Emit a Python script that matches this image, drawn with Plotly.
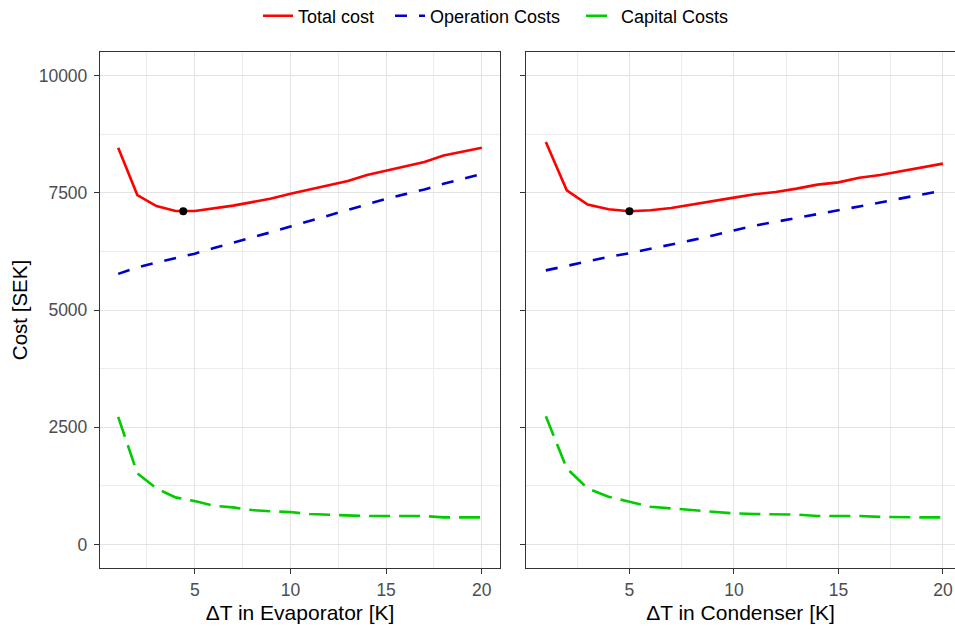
import plotly.graph_objects as go

dT = list(range(1, 21))

evap_total = [8460, 7450, 7215, 7110, 7110, 7160, 7225, 7300, 7375, 7480,
              7570, 7660, 7750, 7880, 7975, 8060, 8155, 8295, 8380, 8460]
evap_oper = [5770, 5910, 6010, 6110, 6200, 6320, 6430, 6550, 6660, 6780,
             6900, 7020, 7130, 7250, 7370, 7470, 7570, 7690, 7800, 7900]
evap_cap = [2722, 1517, 1197, 1005, 926, 827, 792, 735, 707, 692,
            650, 635, 628, 607, 607, 607, 607, 579, 579, 579]
evap_opt = (4.4, 7105)

cond_total = [8580, 7551, 7246, 7146, 7104, 7125, 7174, 7253, 7323, 7395,
              7466, 7515, 7587, 7672, 7721, 7821, 7877, 7962, 8034, 8120]
cond_oper = [5845, 5940, 6040, 6130, 6210, 6300, 6390, 6490, 6590, 6700,
             6800, 6880, 6960, 7040, 7120, 7200, 7290, 7380, 7460, 7545]
cond_cap = [2737, 1623, 1197, 1018, 912, 805, 771, 735, 692, 664,
            650, 650, 640, 607, 607, 607, 590, 579, 579, 579]
cond_opt = (5, 7104)

series_names = ["Total cost", "Operation Costs", "Capital Costs"]
colors = ["#ff0000", "#0000cc", "#00cc00"]
dashes = ["solid", "12px,12px", "21px,9px"]
legend_ids = ["legend", "legend2", "legend3"]
legend_text_x = [300, 432, 623]   # left edge of legend text (px)

FONT = "Arial, Liberation Sans, sans-serif"
fig = go.Figure()

panels = [("x", "y", evap_total, evap_oper, evap_cap, evap_opt),
          ("x2", "y2", cond_total, cond_oper, cond_cap, cond_opt)]
for i, (xa, ya, tot, op, cap, opt) in enumerate(panels):
    for name, vals, col, dsh, lg in zip(series_names, [tot, op, cap], colors, dashes, legend_ids):
        fig.add_trace(go.Scatter(
            x=dT, y=vals, mode="lines", name=name,
            line=dict(color=col, width=2.6, dash=dsh),
            xaxis=xa, yaxis=ya, showlegend=(i == 0), legend=lg))
    fig.add_trace(go.Scatter(
        x=[opt[0]], y=[opt[1]], mode="markers",
        marker=dict(color="black", size=8), xaxis=xa, yaxis=ya,
        showlegend=False))

L, R, T, B = 98, 0, 52, 62
W, H = 955, 630
pw = W - L - R
ph = H - T - B

def dom(a, b):
    return [(a - L) / pw, (b - L) / pw]

grid_major = "#e3e3e3"
grid_minor = "#ececec"
common_x = dict(
    tickmode="array", tickvals=[5, 10, 15, 20], ticktext=["5", "10", "15", "20"],
    ticks="outside", ticklen=5, tickcolor="#333333", tickwidth=1.1,
    showline=True, linecolor="#333333", linewidth=1.3, mirror=True,
    showgrid=True, gridcolor=grid_major, gridwidth=1.4,
    minor=dict(tickmode="array", tickvals=[2.5, 7.5, 12.5, 17.5],
               showgrid=True, gridcolor=grid_minor, gridwidth=1.1, ticks=""),
    tickfont=dict(family=FONT, size=17.5, color="#4d4d4d"),
    title_font=dict(family=FONT, size=21, color="black"),
    zeroline=False, ticklabelstandoff=1,
)
common_y = dict(
    range=[-500, 10500],
    tickmode="array", tickvals=[0, 2500, 5000, 7500, 10000],
    ticks="outside", ticklen=5, tickcolor="#333333", tickwidth=1.1,
    showline=True, linecolor="#333333", linewidth=1.3,
    showgrid=True, gridcolor=grid_major, gridwidth=1.4,
    minor=dict(tickmode="array", tickvals=[1250, 3750, 6250, 8750],
               showgrid=True, gridcolor=grid_minor, gridwidth=1.1, ticks=""),
    tickfont=dict(family=FONT, size=17.5, color="#4d4d4d"),
    title_font=dict(family=FONT, size=20.5, color="black"),
    zeroline=False,
)

legend_common = dict(orientation="h", xanchor="left", yanchor="middle",
                     y=(H - B - 16) / ph,
                     font=dict(family=FONT, size=18, color="black"),
                     bgcolor="rgba(0,0,0,0)", itemwidth=30, borderwidth=0)

layout = dict(
    width=W, height=H,
    margin=dict(l=L, r=R, t=T, b=B, autoexpand=False),
    paper_bgcolor="white", plot_bgcolor="white",
    font=dict(family=FONT),
    xaxis=dict(common_x, domain=dom(100, 500), range=[0.05, 20.95],
               title=dict(text="ΔT in Evaporator [K]", standoff=6), anchor="y"),
    yaxis=dict(common_y, domain=[0, 1], anchor="x", mirror=True,
               tickformat="d", ticklabelstandoff=3,
               title=dict(text="Cost [SEK]", standoff=5)),
    xaxis2=dict(common_x, domain=dom(526, 955), range=[0.05, 20.58],
                title=dict(text="ΔT in Condenser [K]", standoff=6), anchor="y2"),
    yaxis2=dict(common_y, domain=[0, 1], anchor="x2", mirror=False,
                showticklabels=False),
    showlegend=True,
)
for lg, tx in zip(legend_ids, legend_text_x):
    layout[lg] = dict(legend_common, x=(tx - 42 - L) / pw)

fig.update_layout(**layout)
fig.write_html("out.html", config={"displayModeBar": False},
               post_script="document.body.style.margin='0';document.body.style.overflow='hidden';")
